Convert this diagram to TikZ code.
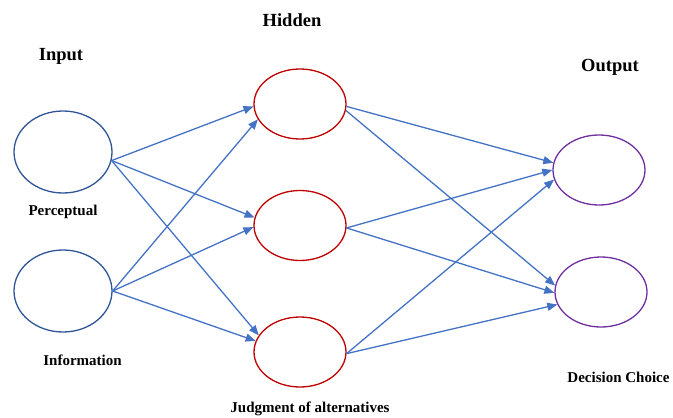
\documentclass[tikz,border=0pt]{standalone}
\usepackage{fontspec}
\setmainfont{Liberation Serif}
\usepackage{tikz}
\usetikzlibrary{arrows.meta,shapes.geometric,positioning}
\usepackage{xcolor}
\definecolor{nnblue}{RGB}{68,114,196}
\definecolor{nninput}{RGB}{47,85,151}
\definecolor{nnred}{RGB}{192,0,0}
\definecolor{nnpurple}{RGB}{112,48,160}
\tikzstyle{arrow} = [line width=1.3pt,-{Triangle[length=10pt,width=8pt]},color=nnblue]
\tikzstyle{neuron} = [ellipse, inner sep=0pt, line width=1.3pt, minimum width=92pt, minimum height=70pt]
\tikzstyle{inneuron} = [neuron, draw=nninput, minimum width=98pt, minimum height=82pt]
\tikzstyle{hidneuron} = [neuron, draw=nnred]
\tikzstyle{outneuron} = [neuron, draw=nnpurple]
\tikzstyle{layertitle} = [font=\fontsize{18.5}{22}\selectfont\bfseries]
\tikzstyle{neuronlabel} = [font=\fontsize{15}{18}\selectfont\bfseries]

\begin{document}
\begin{tikzpicture}[x=1pt, y=-1pt]
\useasboundingbox (0,0) rectangle (673,418);

% Input layer
\node (in1) [inneuron] at (63,152) {};
\node (in2) [inneuron, below of=in1, node distance=139pt] {};

% Hidden layer
\node (h1) [hidneuron] at (300,104) {};
\node (h2) [hidneuron, below of=h1, node distance=121.5pt] {};
\node (h3) [hidneuron, below of=h2, node distance=126.5pt] {};

% Output layer
\node (o1) [outneuron] at (599,170) {};
\node (o2) [outneuron] at (601,292) {};

% Titles
\node (intitle) [layertitle, above of=in1, node distance=95.3pt, xshift=-2pt] {Input};
\node (hidtitle) [layertitle, above of=h1, node distance=84.3pt, xshift=-8pt] {Hidden};
\node (outtitle) [layertitle, above of=o1, node distance=102.4pt, xshift=11pt] {Output};

% Labels
\node (inlab1) [neuronlabel, below of=in1, node distance=59.5pt] {Perceptual};
\node (inlab2) [neuronlabel, below of=in2, node distance=69pt, xshift=19.5pt] {Information};
\node (hidlab) [neuronlabel, below of=h3, node distance=56.5pt, xshift=10pt] {Judgment of alternatives};
\node (outlab) [neuronlabel, below of=o2, node distance=85pt, xshift=17.5pt] {Decision Choice};

% Input to hidden
\draw[arrow] (in1.-10) -- (h1.183);
\draw[arrow] (in1.-10) -- (h2.170);
\draw[arrow] (in1.-10) -- (h3.158);
\draw[arrow] (in2.east) -- (h1.200);
\draw[arrow] (in2.east) -- (h2.182);
\draw[arrow] (in2.east) -- (h3.166);

% Hidden to output
\draw[arrow] (h1.-3) -- (o1.171);
\draw[arrow] (h1.-8) -- (o2.172);
\draw[arrow] (h2.-3) -- (o1.180);
\draw[arrow] (h2.-3) -- (o2.181);
\draw[arrow] (h3.-2) -- (o1.192);
\draw[arrow] (h3.-2) -- (o2.196);
\end{tikzpicture}
\end{document}
